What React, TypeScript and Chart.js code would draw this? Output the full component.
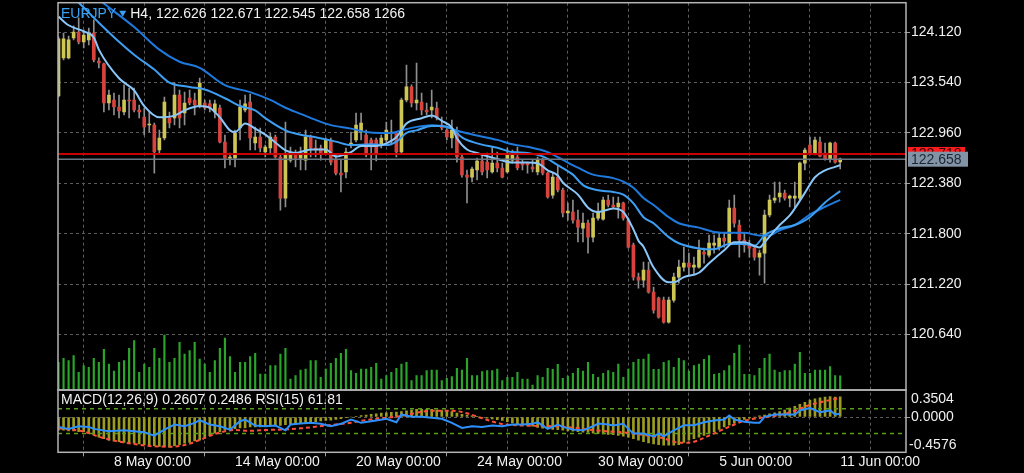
import { useEffect, useRef } from "react";
import { Chart, registerables } from "chart.js";

Chart.register(...registerables);

const symbolName = "EURJPY";
const timeframe = "H4";

const candleOpen = [
  123.386, 123.824, 123.824, 124.054, 124.123, 124.008, 124.031, 124.111, 123.789, 123.755,
  123.305, 123.340, 123.259, 123.201, 123.340, 123.340, 123.224, 123.144, 123.052, 123.052,
  122.764, 122.902, 123.132, 123.132, 123.397, 123.190, 123.363, 123.340, 123.282, 123.305,
  123.294, 123.201, 123.247, 122.856, 122.671, 122.671, 123.017, 123.224, 123.317, 122.844,
  122.913, 122.741, 122.787, 122.913, 122.683, 122.210, 122.648, 122.729, 122.671, 122.648,
  122.913, 122.787, 122.787, 122.729, 122.879, 122.648, 122.498, 122.510, 122.821, 122.879,
  122.971, 122.936, 122.879, 122.879, 122.821, 122.879, 122.959, 122.959, 122.741, 123.340,
  123.490, 123.305, 123.317, 123.224, 123.224, 123.247, 123.052, 122.994, 122.902, 122.959,
  122.683, 122.476, 122.452, 122.533, 122.637, 122.625, 122.510, 122.613, 122.556, 122.510,
  122.648, 122.683, 122.613, 122.613, 122.568, 122.510, 122.648, 122.498, 122.245, 122.452,
  122.303, 122.038, 122.049, 121.957, 121.865, 121.922, 121.761, 121.980, 121.968, 122.187,
  122.130, 122.107, 122.153, 121.957, 121.669, 121.300, 121.266, 121.381, 121.127, 121.058,
  121.035, 120.782, 121.035, 121.300, 121.415, 121.461, 121.415, 121.415, 121.588, 121.554,
  121.669, 121.646, 121.750, 121.692, 122.095, 121.899, 121.727, 121.669, 121.634, 121.531,
  121.577, 122.015, 122.187, 122.222, 122.268, 122.210, 122.210, 122.210, 122.613, 122.821,
  122.729, 122.856, 122.729, 122.660, 122.844, 122.626,
];
const candleHigh = [
  124.066, 124.111, 124.077, 124.193, 124.285, 124.146, 124.169, 124.262, 123.824, 123.766,
  123.455, 123.420, 123.397, 123.513, 123.478, 123.478, 123.282, 123.247, 123.201, 123.075,
  122.994, 123.374, 123.201, 123.536, 123.455, 123.432, 123.455, 123.420, 123.593, 123.340,
  123.340, 123.340, 123.282, 122.936, 122.729, 122.994, 123.340, 123.397, 123.409, 123.029,
  123.017, 122.821, 122.959, 122.936, 122.706, 123.086, 122.798, 122.764, 122.798, 122.994,
  122.936, 122.879, 122.821, 122.902, 122.902, 122.706, 122.648, 122.787, 122.971, 123.190,
  123.190, 122.994, 122.902, 122.902, 122.936, 123.086, 123.109, 122.971, 123.363, 123.743,
  123.513, 123.766, 123.420, 123.305, 123.455, 123.317, 123.144, 123.029, 123.109, 123.029,
  122.706, 122.533, 122.568, 122.671, 122.706, 122.729, 122.798, 122.741, 122.613, 122.787,
  122.764, 122.798, 122.648, 122.625, 122.648, 122.683, 122.671, 122.510, 122.498, 122.591,
  122.326, 122.153, 122.187, 122.072, 122.038, 121.957, 122.038, 122.153, 122.222, 122.245,
  122.222, 122.222, 122.164, 121.980, 121.692, 121.346, 121.473, 121.473, 121.185, 121.070,
  121.070, 121.070, 121.346, 121.496, 121.646, 121.577, 121.531, 121.727, 121.634, 121.784,
  121.784, 121.807, 121.807, 122.187, 122.245, 121.957, 121.807, 121.727, 121.669, 121.611,
  122.072, 122.245, 122.395, 122.395, 122.303, 122.245, 122.395, 122.625, 122.787, 122.913,
  122.913, 122.913, 122.844, 122.856, 122.856, 122.671,
];
const candleLow = [
  123.374, 123.801, 123.812, 124.031, 123.985, 123.939, 123.973, 123.778, 123.709, 123.201,
  123.224, 123.167, 123.132, 123.167, 123.132, 123.201, 123.132, 122.936, 122.971, 122.498,
  122.729, 122.879, 123.017, 123.052, 123.017, 123.052, 123.282, 123.167, 123.247, 123.224,
  123.201, 123.132, 122.844, 122.556, 122.591, 122.568, 122.879, 123.201, 122.764, 122.764,
  122.741, 122.683, 122.729, 122.671, 122.072, 122.107, 122.625, 122.568, 122.533, 122.533,
  122.683, 122.683, 122.648, 122.706, 122.591, 122.476, 122.280, 122.441, 122.787, 122.856,
  122.879, 122.683, 122.533, 122.637, 122.787, 122.856, 122.821, 122.683, 122.729, 123.317,
  123.259, 123.224, 123.167, 123.167, 123.132, 123.109, 122.994, 122.879, 122.787, 122.625,
  122.452, 122.153, 122.395, 122.418, 122.476, 122.441, 122.498, 122.510, 122.441, 122.498,
  122.613, 122.533, 122.533, 122.498, 122.510, 122.476, 122.476, 122.210, 122.210, 122.280,
  121.992, 121.957, 121.922, 121.704, 121.704, 121.577, 121.704, 121.957, 121.957, 122.107,
  122.095, 121.980, 121.957, 121.634, 121.266, 121.173, 121.185, 121.116, 120.885, 120.828,
  120.770, 120.770, 121.012, 121.231, 121.369, 121.323, 121.323, 121.404, 121.461, 121.531,
  121.577, 121.611, 121.646, 121.669, 121.876, 121.531, 121.588, 121.531, 121.496, 121.323,
  121.231, 121.992, 122.153, 122.164, 122.187, 122.107, 122.095, 122.187, 122.533, 122.706,
  122.706, 122.683, 122.648, 122.625, 122.613, 122.545,
];
const candleClose = [
  124.043, 124.043, 124.031, 124.123, 124.008, 124.088, 124.111, 123.801, 123.766, 123.305,
  123.397, 123.259, 123.213, 123.340, 123.328, 123.224, 123.201, 123.029, 123.063, 122.741,
  122.902, 123.317, 123.075, 123.397, 123.132, 123.305, 123.305, 123.282, 123.535, 123.247,
  123.247, 123.294, 122.856, 122.671, 122.683, 122.959, 123.259, 123.294, 122.902, 122.913,
  122.787, 122.798, 122.913, 122.683, 122.210, 122.706, 122.729, 122.671, 122.706, 122.913,
  122.787, 122.764, 122.729, 122.879, 122.625, 122.498, 122.476, 122.741, 122.844, 123.052,
  123.075, 122.706, 122.798, 122.729, 122.902, 122.994, 122.971, 122.741, 123.340, 123.490,
  123.305, 123.340, 123.224, 123.201, 123.259, 123.132, 123.017, 122.913, 122.994, 122.683,
  122.476, 122.452, 122.545, 122.637, 122.510, 122.533, 122.613, 122.556, 122.452, 122.706,
  122.706, 122.556, 122.591, 122.591, 122.545, 122.648, 122.498, 122.222, 122.452, 122.303,
  122.038, 122.061, 121.957, 121.876, 121.922, 121.761, 121.980, 122.049, 122.187, 122.130,
  122.107, 122.153, 121.980, 121.646, 121.300, 121.266, 121.381, 121.127, 120.920, 120.839,
  120.782, 121.035, 121.300, 121.415, 121.461, 121.415, 121.438, 121.611, 121.565, 121.692,
  121.692, 121.750, 121.715, 122.095, 121.922, 121.727, 121.669, 121.634, 121.531, 121.577,
  122.015, 122.187, 122.210, 122.268, 122.210, 122.233, 122.233, 122.613, 122.764, 122.729,
  122.879, 122.694, 122.660, 122.844, 122.625, 122.658,
];
const volumes = [
  2500, 2850, 2640, 3090, 1590, 2190, 2040, 2850, 2490, 3660,
  2340, 1710, 2490, 2640, 3750, 4440, 1590, 2340, 2040, 3750,
  2850, 4950, 2490, 2850, 4290, 3240, 3540, 4290, 2790, 2340,
  1590, 2640, 3750, 4680, 3000, 1590, 2490, 2490, 3000, 3300,
  1440, 1440, 2190, 2190, 3240, 3750, 990, 1290, 1800, 1890,
  2640, 2640, 1140, 1890, 2400, 2850, 3300, 3660, 1740, 1500,
  1890, 1890, 2040, 2400, 990, 1290, 1590, 1950, 2340, 2490,
  840, 1290, 1290, 1740, 1800, 1800, 840, 1050, 1200, 1950,
  1800, 2850, 1290, 1290, 1650, 1740, 1740, 1890, 840, 1140,
  1140, 1590, 990, 990, 450, 1290, 1140, 1950, 1860, 2310,
  1050, 1260, 1500, 1950, 1710, 2490, 1410, 1140, 1500, 1740,
  1590, 2340, 1140, 1890, 2490, 2760, 2790, 3240, 1860, 1860,
  2490, 2640, 2040, 2850, 2640, 1710, 2190, 2340, 2760, 3090,
  1410, 1500, 1740, 2190, 3300, 4050, 1410, 1410, 1290, 1950,
  2850, 3240, 1800, 1590, 1740, 1740, 2340, 3390, 1500, 1500,
  1800, 1800, 1800, 2100, 1290, 1266,
];

const maFastIdx = [0,2,5,7,8,12,15,17,20,23,25,28,30,32,34,35,37,39,41,43,45,47,50,53,55,58,60,63,65,67,69,72,74,76,78,79,81,83,87,90,93,95,97,99,100,103,105,107,110,112,114,115,116,118,121,122,124,127,129,132,134,136,139,140,143,145,146,148,150,152,154,155];
const maFastVal = [124.30,124.20,124.13,124.06,123.92,123.59,123.45,123.27,123.14,123.16,123.22,123.27,123.25,123.14,122.99,122.97,123.07,123.01,122.94,122.85,122.76,122.73,122.77,122.77,122.69,122.74,122.81,122.81,122.84,122.91,123.07,123.13,123.16,123.10,123.02,122.90,122.77,122.73,122.66,122.62,122.62,122.61,122.53,122.47,122.39,122.25,122.10,122.05,122.09,122.05,121.85,121.72,121.65,121.41,121.24,121.24,121.30,121.35,121.46,121.61,121.70,121.70,121.64,121.70,121.90,122.01,122.09,122.27,122.45,122.53,122.57,122.59];
const maMidIdx = [0,4,8,12,15,19,22,26,29,33,36,39,41,45,48,51,55,58,62,65,67,69,71,74,76,78,80,83,87,90,93,96,99,102,104,107,110,112,114,116,118,121,123,127,130,133,136,138,140,143,146,149,152,155];
const maMidVal = [124.65,124.46,124.23,124.01,123.86,123.69,123.54,123.49,123.46,123.36,123.27,123.22,123.13,122.99,122.94,122.91,122.86,122.82,122.83,122.82,122.86,122.96,122.99,123.04,123.04,123.01,122.91,122.84,122.79,122.74,122.73,122.69,122.59,122.48,122.36,122.30,122.28,122.25,122.15,121.99,121.92,121.76,121.69,121.63,121.62,121.68,121.68,121.66,121.78,121.86,121.90,121.99,122.16,122.29];
const maSlowIdx = [0,9,15,20,24,28,33,38,42,45,48,51,54,58,61,64,66,68,71,74,76,80,83,87,90,93,97,100,103,106,110,112,114,116,118,121,123,127,130,133,136,139,141,143,146,149,152,155];
const maSlowVal = [124.86,124.45,124.18,123.92,123.78,123.71,123.51,123.43,123.34,123.25,123.18,123.11,123.05,123.01,122.97,122.96,122.96,122.99,123.03,123.05,123.04,122.97,122.93,122.88,122.83,122.80,122.74,122.65,122.56,122.48,122.44,122.40,122.33,122.21,122.13,121.99,121.92,121.87,121.82,121.81,121.81,121.78,121.78,121.84,121.90,122.02,122.11,122.19];

const macdHist = [
  -0.17,-0.17,-0.18,-0.18,-0.19,-0.19,-0.21,-0.23,-0.26,-0.28,
  -0.30,-0.31,-0.32,-0.33,-0.34,-0.34,-0.35,-0.36,-0.36,-0.37,
  -0.38,-0.38,-0.39,-0.37,-0.36,-0.34,-0.33,-0.31,-0.30,-0.27,
  -0.24,-0.21,-0.19,-0.17,-0.16,-0.15,-0.14,-0.14,-0.13,-0.13,
  -0.13,-0.125,-0.12,-0.11,-0.11,-0.10,-0.09,-0.09,-0.08,-0.075,
  -0.07,-0.06,-0.05,-0.045,-0.04,-0.03,-0.02,-0.01,0.0,0.01,
  0.02,0.026,0.035,0.04,0.05,0.055,0.06,0.065,0.07,0.08,
  0.09,0.10,0.10,0.10,0.10,0.09,0.085,0.08,0.07,0.05,
  0.035,0.025,0.015,0.005,-0.005,-0.015,-0.025,-0.035,-0.045,-0.06,
  -0.075,-0.09,-0.10,-0.11,-0.12,-0.135,-0.145,-0.15,-0.16,-0.165,
  -0.17,-0.18,-0.185,-0.19,-0.195,-0.20,-0.21,-0.215,-0.22,-0.225,
  -0.23,-0.24,-0.25,-0.26,-0.28,-0.30,-0.32,-0.335,-0.35,-0.36,
  -0.365,-0.365,-0.365,-0.36,-0.33,-0.30,-0.28,-0.26,-0.24,-0.215,
  -0.19,-0.16,-0.13,-0.105,-0.08,-0.055,-0.03,-0.015,0.0,0.015,
  0.025,0.04,0.055,0.07,0.09,0.115,0.14,0.165,0.19,0.22,
  0.235,0.25,0.26,0.265,0.26,0.2607,
];
const signalIdx = [0,5,8,12,15,18,22,25,28,31,35,38,41,45,48,51,54,58,61,64,68,71,74,78,81,84,88,90,93,97,100,103,106,110,113,116,120,122,123,125,127,130,133,136,140,143,146,149,153,155];
const signalVal = [-0.147,-0.19,-0.255,-0.32,-0.35,-0.376,-0.385,-0.363,-0.298,-0.22,-0.169,-0.178,-0.169,-0.16,-0.147,-0.126,-0.104,-0.074,-0.039,-0.017,0.013,0.056,0.082,0.082,0.048,-0.017,-0.091,-0.104,-0.113,-0.117,-0.126,-0.147,-0.17,-0.19,-0.205,-0.233,-0.276,-0.32,-0.333,-0.333,-0.298,-0.212,-0.126,-0.048,-0.004,0.026,0.082,0.156,0.22,0.2486];
const rsiIdx = [0,2,4,6,7,10,13,15,17,19,21,23,25,27,28,30,32,34,36,37,39,41,43,45,46,48,50,52,54,56,58,60,63,65,67,68,70,72,74,76,78,80,82,84,86,88,90,92,94,95,96,97,99,100,102,104,106,107,109,110,112,113,114,116,118,119,120,122,124,126,128,130,132,133,134,136,138,139,140,142,144,146,147,149,151,153,154,155];
const rsiVal = [40.8,37.6,41.8,40.8,37.6,33.7,35.3,33.7,32.1,26.7,36.4,44.5,41.8,47.3,51.5,44.5,41.8,36.4,49.9,52.6,42.9,41.8,42.9,35.3,44.5,46.2,47.3,45.7,41.8,45.7,52.6,47.3,51,53.8,48.3,60.7,57,57,55.4,53.8,47.3,39.2,41.8,40.8,42.9,41.8,44.5,44.5,45.7,48.3,42.9,37.6,44.5,40.8,36.4,35.3,41.8,46.2,44.5,42.9,45.7,37.6,30,30,25.6,30,25.6,35.3,43.4,43.4,48.3,51,52.6,59.1,52.6,48.9,47.3,47.3,57,60.7,60.7,60.7,67.2,70.9,64.5,67.2,60.7,61.81];
const rsiLevels = [70, 30];

const priceTicks = [124.12, 123.54, 122.96, 122.38, 121.8, 121.22, 120.64];
const macdMax = 0.3504;
const macdMin = -0.4576;
const bidPrice = 122.658;
const askPrice = 122.718;
const gridIdx = [11, 23, 35, 47, 59, 71, 83, 95, 107, 119, 131, 143, 155, 167];
const dateLabelIdx = [11, 35, 59, 83, 107, 131, 155];
const dateLabels = ["8 May 00:00", "14 May 00:00", "20 May 00:00", "24 May 00:00", "30 May 00:00", "5 Jun 00:00", "11 Jun 00:00"];

const X_MIN = -0.1;
const X_MAX = 168.05;
const PRICE_MIN = 120.0;
const PRICE_MAX = 124.46;
const PRICE_WEIGHT = 387.3;
const MACD_WEIGHT = 62.3;
const VOL_MAX = 34857;
const FONT = '"Liberation Sans", Arial, Helvetica, sans-serif';

const noPad = (s: any) => {
  s.paddingTop = 0;
  s.paddingBottom = 0;
  s.paddingLeft = 0;
  s.paddingRight = 0;
};

const overlay = {
  id: "mtOverlay",
  afterDraw(chart: any) {
    const { ctx, chartArea, scales } = chart;
    const yP = scales.y;
    const yM = scales.ym;
    const L = chartArea.left;
    const R = chartArea.right;
    ctx.save();
    ctx.strokeStyle = "#b4b4b4";
    ctx.lineWidth = 1.5;
    ctx.strokeRect(L, yP.top, R - L, yP.bottom - yP.top);
    ctx.strokeRect(L, yM.top, R - L, yM.bottom - yM.top);

    ctx.font = `14px ${FONT}`;
    ctx.textAlign = "left";
    ctx.textBaseline = "alphabetic";
    const n = candleOpen.length - 1;
    let hx = L + 3;
    const hy = yP.top + 15;
    ctx.fillStyle = "#3aa2f5";
    ctx.fillText(symbolName, hx, hy);
    hx += ctx.measureText(symbolName).width + 3;
    ctx.beginPath();
    ctx.moveTo(hx, hy - 7);
    ctx.lineTo(hx + 7, hy - 7);
    ctx.lineTo(hx + 3.5, hy - 1);
    ctx.closePath();
    ctx.fill();
    hx += 11;
    ctx.fillStyle = "#f2f2f2";
    const hdr = `${timeframe}, ${candleOpen[n].toFixed(3)} ${candleHigh[n].toFixed(3)} ${candleLow[n].toFixed(3)} ${candleClose[n].toFixed(3)} ${volumes[n]}`;
    ctx.fillText(hdr, hx, hy);

    const mt = `MACD(12,26,9) ${macdHist[n].toFixed(4)} ${signalVal[signalVal.length - 1].toFixed(4)} RSI(15) ${rsiVal[rsiVal.length - 1].toFixed(2)}`;
    ctx.fillText(mt, L + 3, yM.top + 14);

    ctx.textBaseline = "middle";
    ctx.fillStyle = "#f0f0f0";
    ctx.fillText(macdMax.toFixed(4), R + 5, yM.top + 9);
    ctx.fillText(macdMin.toFixed(4), R + 3, yM.bottom - 7);

    const bx = R + 2;
    const yA = yP.getPixelForValue(askPrice);
    ctx.fillStyle = "#ff1c1c";
    ctx.fillRect(bx, yA - 7, 57, 14);
    ctx.fillStyle = "#3a0000";
    ctx.fillText(askPrice.toFixed(3), bx + 3, yA + 0.5);
    const yB = yP.getPixelForValue(bidPrice);
    ctx.fillStyle = "#8394a7";
    ctx.fillRect(bx, yB - 7.5, 60, 15);
    ctx.fillStyle = "#1c2633";
    ctx.fillText(bidPrice.toFixed(3), bx + 3, yB + 0.5);
    ctx.restore();
  },
};

export default function App() {
  const ref = useRef<HTMLCanvasElement>(null);
  useEffect(() => {
    const canvas = ref.current;
    if (!canvas) return;
    const idx = candleOpen.map((_, i) => i);
    const pts = (xs: number[], ys: number[]) => xs.map((x, k) => ({ x, y: ys[k] }));
    const hline = (v: number) => [{ x: X_MIN, y: v }, { x: X_MAX, y: v }];
    const bodyColors = idx.map((i) => (candleClose[i] >= candleOpen[i] ? "#cdc655" : "#d8433e"));

    const chart = new Chart(canvas, {
      type: "bar",
      data: {
        datasets: [
          {
            type: "line", label: "rsi", yAxisID: "yr", data: pts(rsiIdx, rsiVal) as any,
            borderColor: "#2e90ff", borderWidth: 2, pointRadius: 0, order: 1,
          },
          {
            type: "line", label: "ask", yAxisID: "y", data: hline(askPrice) as any,
            borderColor: "#c80000", borderWidth: 2, pointRadius: 0, order: 1,
          },
          {
            type: "line", label: "bid", yAxisID: "y", data: hline(bidPrice) as any,
            borderColor: "#6b7682", borderWidth: 1.5, pointRadius: 0, order: 1,
          },
          {
            type: "line", label: "maFast", yAxisID: "y", data: pts(maFastIdx, maFastVal) as any,
            borderColor: "#8ac7f8", borderWidth: 2, pointRadius: 0, cubicInterpolationMode: "monotone", order: 2,
          },
          {
            type: "line", label: "maMid", yAxisID: "y", data: pts(maMidIdx, maMidVal) as any,
            borderColor: "#3d9ef2", borderWidth: 2, pointRadius: 0, cubicInterpolationMode: "monotone", order: 2,
          },
          {
            type: "line", label: "maSlow", yAxisID: "y", data: pts(maSlowIdx, maSlowVal) as any,
            borderColor: "#1f7ade", borderWidth: 2, pointRadius: 0, cubicInterpolationMode: "monotone", order: 2,
          },
          {
            type: "line", label: "signal", yAxisID: "ym", data: pts(signalIdx, signalVal) as any,
            borderColor: "#ff4d3a", borderWidth: 2, borderDash: [4, 3], pointRadius: 0,
            cubicInterpolationMode: "monotone", order: 2,
          },
          {
            type: "bar", label: "body", yAxisID: "y",
            data: idx.map((i) => ({ x: i, y: [candleOpen[i], candleClose[i]] })) as any,
            backgroundColor: bodyColors, barThickness: 3, grouped: false, minBarLength: 1, order: 3,
          },
          {
            type: "bar", label: "wick", yAxisID: "y",
            data: idx.map((i) => ({ x: i, y: [candleLow[i], candleHigh[i]] })) as any,
            backgroundColor: "#8f8f8f", barThickness: 1, grouped: false, order: 4,
          },
          ...rsiLevels.map((lv) => ({
            type: "line" as const, label: "lvl" + lv, yAxisID: "yr", data: hline(lv) as any,
            borderColor: "#5c9e1c", borderWidth: 1.5, borderDash: [4, 4], pointRadius: 0, order: 5,
          })),
          {
            type: "bar", label: "volume", yAxisID: "yv",
            data: idx.map((i) => ({ x: i, y: volumes[i] })) as any,
            backgroundColor: "#2aa52a", barThickness: 1.5, grouped: false, order: 6,
          },
          {
            type: "bar", label: "macd", yAxisID: "ym",
            data: idx.map((i) => ({ x: i, y: macdHist[i] })) as any,
            backgroundColor: "#9c9c20", barThickness: 2, grouped: false, order: 6,
          },
        ] as any,
      },
      options: {
        animation: false,
        responsive: false,
        devicePixelRatio: 1,
        events: [],
        layout: { padding: { left: 58, top: 2.7, right: 0, bottom: 0 }, autoPadding: false },
        plugins: { legend: { display: false }, tooltip: { enabled: false } },
        scales: {
          x: {
            type: "linear", min: X_MIN, max: X_MAX, offset: false, position: "bottom", bounds: "data",
            afterBuildTicks: (s: any) => { s.ticks = gridIdx.map((v) => ({ value: v })); },
            afterFit: (s: any) => { s.height = 20.7; noPad(s); },
            ticks: {
              autoSkip: false, maxRotation: 0, minRotation: 0, align: "start", padding: -3,
              color: "#f2f2f2", font: { size: 14, family: FONT },
              callback: (v: any) => {
                const k = dateLabelIdx.indexOf(Number(v));
                return k >= 0 ? dateLabels[k] : "";
              },
            },
            grid: {
              color: "#5c5c5c", lineWidth: 1, tickLength: 4,
              tickColor: (c: any) => (c.tick && dateLabelIdx.includes(c.tick.value) ? "#a0a0a0" : "rgba(0,0,0,0)"),
            },
            border: { display: false, dash: [3, 3] },
          },
          y: {
            type: "linear", position: "right", stack: "panes", stackWeight: PRICE_WEIGHT,
            min: PRICE_MIN, max: PRICE_MAX, bounds: "data",
            afterBuildTicks: (s: any) => { s.ticks = priceTicks.map((v) => ({ value: v })); },
            afterFit: (s: any) => { s.width = 118; noPad(s); },
            ticks: { padding: 1, color: "#f2f2f2", font: { size: 14, family: FONT }, callback: (v: any) => Number(v).toFixed(3) },
            grid: { color: "#5c5c5c", lineWidth: 1, tickLength: 4, tickColor: "#a0a0a0" },
            border: { display: false, dash: [3, 3] },
          },
          ym: {
            type: "linear", position: "right", stack: "panes", stackWeight: MACD_WEIGHT,
            min: macdMin, max: macdMax, bounds: "data",
            afterBuildTicks: (s: any) => { s.ticks = [{ value: 0 }]; },
            afterFit: (s: any) => { s.width = 118; noPad(s); },
            ticks: { padding: 1, color: "#f2f2f2", font: { size: 14, family: FONT }, callback: (v: any) => Number(v).toFixed(4) },
            grid: { color: "#5c5c5c", lineWidth: 1, tickLength: 4, tickColor: "#a0a0a0" },
            border: { display: false, dash: [3, 3] },
          },
          yv: {
            type: "linear", display: false, position: "right", bounds: "data",
            min: (-VOL_MAX * MACD_WEIGHT) / PRICE_WEIGHT, max: VOL_MAX,
          },
          yr: {
            type: "linear", display: false, position: "right", bounds: "data",
            min: 0, max: (100 * (PRICE_WEIGHT + MACD_WEIGHT)) / MACD_WEIGHT,
          },
        } as any,
      },
      plugins: [overlay],
    });
    return () => chart.destroy();
  }, []);

  return (
    <div style={{ position: "fixed", left: 0, top: 0, width: 1024, height: 473, background: "#000" }}>
      <canvas ref={ref} width={1024} height={473} style={{ display: "block", width: 1024, height: 473 }} />
    </div>
  );
}
